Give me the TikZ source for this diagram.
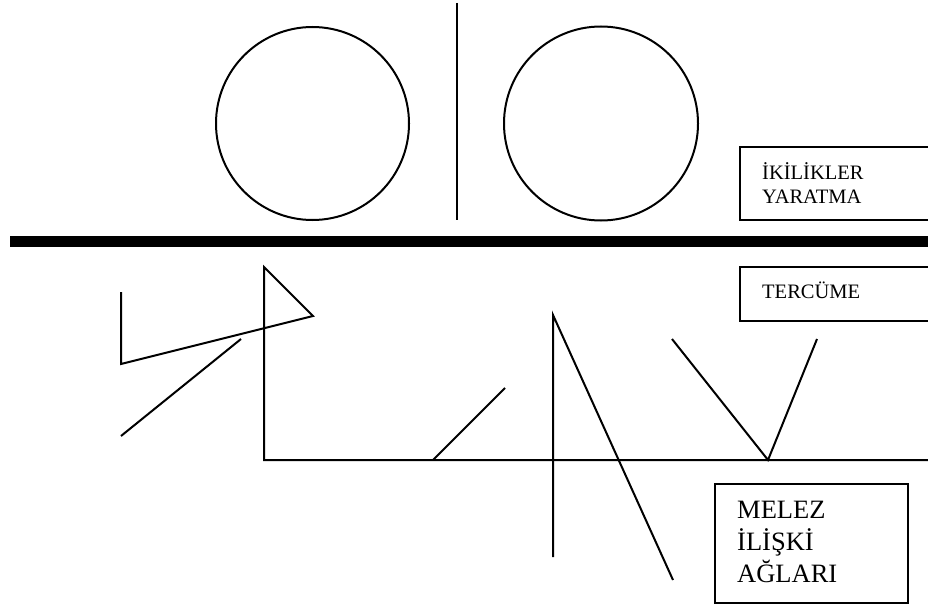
\documentclass[tikz,border=0pt]{standalone}
\usepackage{fontspec}
\setmainfont{Liberation Serif}
\begin{document}
\begin{tikzpicture}[x=1pt,y=-1pt,
  thin line/.style={line width=2pt,line cap=butt},
  frame/.style={line width=2pt},
  bar/.style={line width=11pt},
  small text/.style={font=\fontsize{20.5}{24}\selectfont,inner sep=0pt,align=left,anchor=base west},
  big text/.style={font=\fontsize{26.5}{32}\selectfont,inner sep=0pt,align=left,anchor=base west}]
\useasboundingbox (0,0) rectangle (928,610);
% top part
\node[draw,thin line,circle,minimum size=193pt,inner sep=0pt] (c1) at (312.5,123.5) {};
\node[draw,thin line,circle,minimum size=194pt,inner sep=0pt] (c2) at (601,123.5) {};
\coordinate (v1) at (457,3);
\coordinate (v2) at (457,220);
\draw[thin line] (v1) -- (v2);
% thick bar
\coordinate (b1) at (10,241.5);
\coordinate (b2) at (930,241.5);
\draw[bar] (b1) -- (b2);
% boxes
\draw[frame] (940,147) -- (740,147) -- (740,220) -- (940,220);
\node[small text] (t1) at (762,203) {İKİLİKLER\\YARATMA};
\draw[frame] (940,267) -- (740,267) -- (740,321) -- (940,321);
\node[small text] (t2) at (762,298) {TERCÜME};
\draw[frame] (715,484) rectangle (908,603);
\node[big text] (t3) at (737,582) {MELEZ\\İLİŞKİ\\AĞLARI};
% lower lines
\coordinate (a1) at (264,267);
\coordinate (a2) at (313,316);
\coordinate (a3) at (121,364);
\coordinate (a4) at (121,292);
\draw[thin line,line join=miter] (a4) -- (a3) -- (a2) -- (a1) -- (264,460) -- (930,460);
\coordinate (d1) at (121,436);
\coordinate (d2) at (241,339);
\draw[thin line] (d1) -- (d2);
\coordinate (e1) at (433,460);
\coordinate (e2) at (505,388);
\draw[thin line] (e1) -- (e2);
\coordinate (f1) at (553,557);
\coordinate (f2) at (553,315);
\coordinate (f3) at (673,580);
\draw[thin line] (f1) -- (f2) -- (f3);
\coordinate (g1) at (672,339);
\coordinate (g2) at (768,460);
\coordinate (g3) at (817,339);
\draw[thin line] (g1) -- (g2) -- (g3);
\end{tikzpicture}
\end{document}
